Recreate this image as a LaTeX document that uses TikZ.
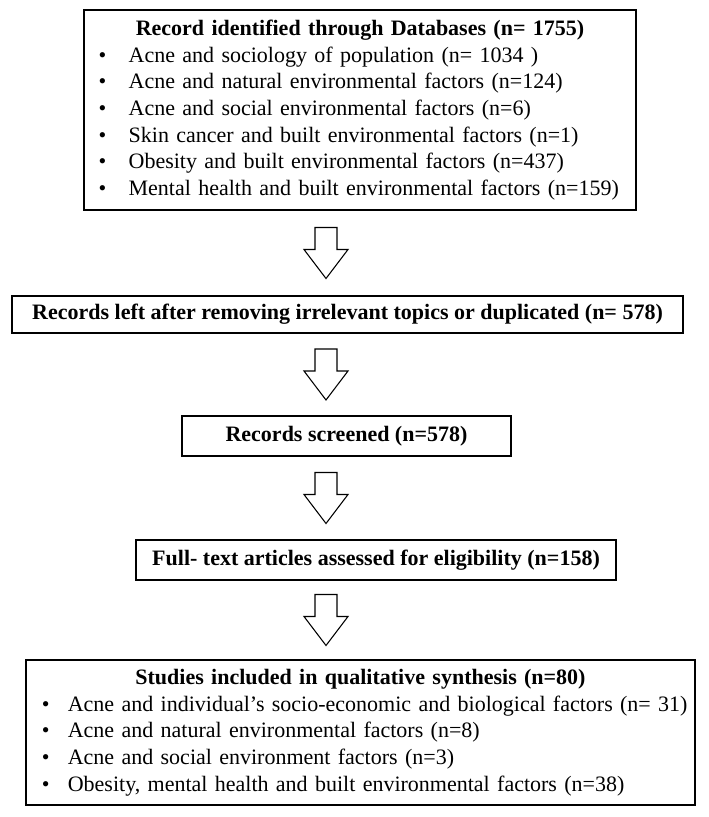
\documentclass[tikz,border=0pt]{standalone}
\usepackage{fontspec}
\setmainfont{Liberation Serif}
\usetikzlibrary{calc}
\tikzset{
  flowbox/.style={draw, line width=1.4pt, inner sep=0pt, align=center,
    font=\fontsize{16.5}{20}\selectfont},
  listbox/.style={flowbox, align=left, inner xsep=11pt},
  blockarrow/.style={draw, line width=0.8pt, fill=white, line join=miter}
}
\newcommand{\itm}[2][22.5pt]{\mbox{\makebox[#1][l]{\textbullet}#2}}
\newcommand{\flowarrow}[2]{%
  \draw[blockarrow] ($(#1.south -| arrx)!0.5!(#2.north -| arrx)$) ++(-11,-25.5)
    -- ++(22,0) -- ++(0,22) -- ++(11,0) -- ++(-22,29) -- ++(-22,-29) -- ++(11,0) -- cycle;}
\begin{document}
\begin{tikzpicture}[x=0.75pt,y=-0.75pt]
                \fill[white] (0,0) rectangle (708,817);
                \coordinate (arrx) at (326,0);
                % boxes
                \node[listbox, text width=392pt, minimum width=414pt, minimum height=150pt] (found) at (360,110)
                  {{\centering\bfseries Record identified through Databases (n= 1755)\par}
                   \itm{Acne and sociology of population (n= 1034 )}\\
                   \itm{Acne and natural environmental factors (n=124)}\\
                   \itm{Acne and social environmental factors (n=6)}\\
                   \itm{Skin cancer and built environmental factors (n=1)}\\
                   \itm{Obesity and built environmental factors (n=437)}\\
                   \itm{Mental health and built environmental factors (n=159)}};
                \node[flowbox, minimum width=503.25pt, minimum height=27.75pt] (left) at (347.5,314.5)
                  {\bfseries Records left after removing irrelevant topics or duplicated (n= 578)};
                \node[flowbox, minimum width=246.75pt, minimum height=30pt] (screened) at (346.5,436)
                  {\bfseries Records screened (n=578)};
                \node[flowbox, minimum width=360pt, minimum height=30pt] (fulltext) at (376,560)
                  {\bfseries Full- text articles assessed for eligibility (n=158)};
                \node[listbox, inner xsep=12pt, text width=478pt, minimum width=502pt, minimum height=108.75pt] (included) at (360.5,732.5)
                  {{\centering\bfseries Studies included in qualitative synthesis (n=80)\par}
                   \itm[19.5pt]{Acne and individual's socio-economic and biological factors (n= 31)}\\
                   \itm[19.5pt]{Acne and natural environmental factors (n=8)}\\
                   \itm[19.5pt]{Acne and social environment factors (n=3)}\\
                   \itm[19.5pt]{Obesity, mental health and built environmental factors (n=38)}};
                % arrows
                \flowarrow{found}{left}
                \flowarrow{left}{screened}
                \flowarrow{screened}{fulltext}
                \flowarrow{fulltext}{included}
\end{tikzpicture}
\end{document}
